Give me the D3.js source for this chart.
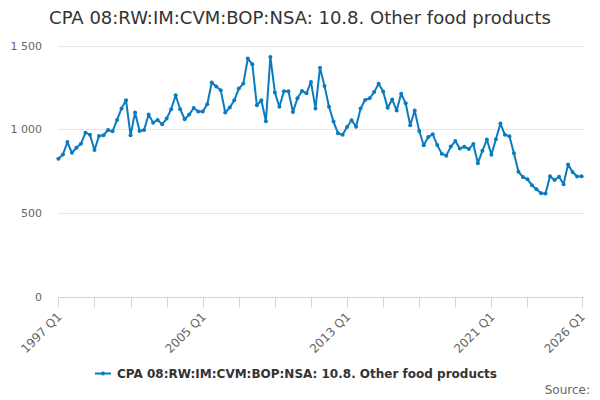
<!DOCTYPE html>
<html>
<head>
<meta charset="utf-8">
<script src="https://cdn.jsdelivr.net/npm/d3@7"></script>
<style>
  body { margin: 0; background: #fff; }
  svg { font-family: "DejaVu Sans", sans-serif; }
</style>
</head>
<body>
<div id="chart"></div>
<script>
// quarters 1997 Q1 .. 2026 Q1
const firstYear = 1997;
const quarters = [];
for (let y = firstYear; y <= 2026; y++) {
  for (let q = 1; q <= 4; q++) {
    if (y === 2026 && q > 1) break;
    quarters.push(y + " Q" + q);
  }
}

const values = [
  825, 850, 924, 860, 890, 914, 980, 968, 876, 960,
  964, 996, 988, 1056, 1125, 1173, 964, 1101, 990, 996,
  1088, 1040, 1056, 1030, 1064, 1120, 1203, 1120, 1060, 1088,
  1127, 1106, 1106, 1150, 1279, 1255, 1233, 1100, 1130, 1173,
  1243, 1273, 1422, 1388, 1143, 1173, 1048, 1432, 1219, 1135,
  1227, 1227, 1104, 1185, 1229, 1215, 1283, 1125, 1368, 1259,
  1135, 1046, 976, 968, 1014, 1054, 1016, 1124, 1175, 1185,
  1222, 1272, 1225, 1129, 1178, 1112, 1212, 1155, 1024, 1112,
  990, 905, 954, 970, 906, 855, 843, 897, 930, 885,
  896, 883, 912, 798, 872, 939, 849, 941, 1035, 967,
  959, 857, 747, 715, 702, 667, 642, 619, 618, 720,
  698, 717, 672, 790, 746, 719, 720
];

const yTicks = [0, 500, 1000, 1500];
const tickEvery = [0, 8, 16, 24, 32, 40, 48, 56, 64, 72, 80, 88, 96, 104, 116];
const labelAt = ["1997 Q1", "2005 Q1", "2013 Q1", "2021 Q1", "2026 Q1"];

const title = "CPA 08:RW:IM:CVM:BOP:NSA: 10.8. Other food products";
const lineColor = "#0b7bbf";

const W = 600, H = 400;
const plotLeft = 58, plotRight = 584, plotTop = 45, plotBottom = 297;

const svg = d3.select("#chart").append("svg")
  .attr("width", W).attr("height", H);

const x = d3.scaleLinear()
  .domain([0, quarters.length - 1])
  .range([58.4, 581.6]);

const y = d3.scaleLinear()
  .domain([0, 1500])
  .range([plotBottom, 45.5]);

// title
svg.append("text")
  .attr("x", W / 2).attr("y", 24)
  .attr("text-anchor", "middle")
  .attr("font-size", 18)
  .attr("fill", "#333")
  .text(title);

// horizontal grid
svg.append("g").selectAll("line")
  .data(yTicks.slice(1))
  .enter().append("line")
  .attr("x1", plotLeft).attr("x2", plotRight)
  .attr("y1", d => Math.round(y(d)) + 0.5)
  .attr("y2", d => Math.round(y(d)) + 0.5)
  .attr("stroke", "#e6e6e6");

// y axis labels
const yAxis = d3.axisLeft(y)
  .tickValues(yTicks)
  .tickSize(0)
  .tickPadding(16)
  .tickFormat(d => d3.format(",")(d).replace(",", " "));

svg.append("g")
  .attr("transform", "translate(" + plotLeft + ",0)")
  .call(yAxis)
  .call(g => g.select(".domain").remove())
  .call(g => g.selectAll("text")
    .attr("fill", "#666")
    .attr("font-size", 11)
    .attr("font-family", "DejaVu Sans, sans-serif"));

// x axis
const xg = svg.append("g")
  .attr("transform", "translate(0," + (plotBottom + 0.5) + ")");

xg.append("line")
  .attr("x1", plotLeft).attr("x2", plotRight)
  .attr("stroke", "#ccd6eb");

xg.selectAll("line.tick")
  .data(tickEvery)
  .enter().append("line")
  .attr("class", "tick")
  .attr("x1", d => Math.round(x(d)) + 0.5)
  .attr("x2", d => Math.round(x(d)) + 0.5)
  .attr("y1", 0).attr("y2", 10)
  .attr("stroke", "#ccd6eb");

xg.selectAll("text")
  .data(labelAt)
  .enter().append("text")
  .attr("transform", d => "translate(" + (x(quarters.indexOf(d)) + 4) + ",20) rotate(-45)")
  .attr("text-anchor", "end")
  .attr("font-size", 12)
  .attr("fill", "#666")
  .text(d => d);

// series
const line = d3.line()
  .x((d, i) => x(i))
  .y(d => y(d));

svg.append("path")
  .datum(values)
  .attr("d", line)
  .attr("fill", "none")
  .attr("stroke", lineColor)
  .attr("stroke-width", 2)
  .attr("stroke-linejoin", "round");

svg.append("g").selectAll("circle")
  .data(values)
  .enter().append("circle")
  .attr("cx", (d, i) => x(i))
  .attr("cy", d => y(d))
  .attr("r", 2)
  .attr("fill", lineColor);

// legend
const legend = svg.append("g");
legend.append("text")
  .attr("x", 117).attr("y", 378)
  .attr("font-size", 12)
  .attr("font-weight", "bold")
  .attr("fill", "#333")
  .text(title);

legend.append("line")
  .attr("x1", 95).attr("x2", 111)
  .attr("y1", 373.5).attr("y2", 373.5)
  .attr("stroke", lineColor)
  .attr("stroke-width", 2);
legend.append("circle")
  .attr("cx", 103).attr("cy", 373.5)
  .attr("r", 2)
  .attr("fill", lineColor);

// credits
svg.append("text")
  .attr("x", 590).attr("y", 394)
  .attr("text-anchor", "end")
  .attr("font-size", 12)
  .attr("fill", "#666")
  .text("Source:");
</script>
</body>
</html>
